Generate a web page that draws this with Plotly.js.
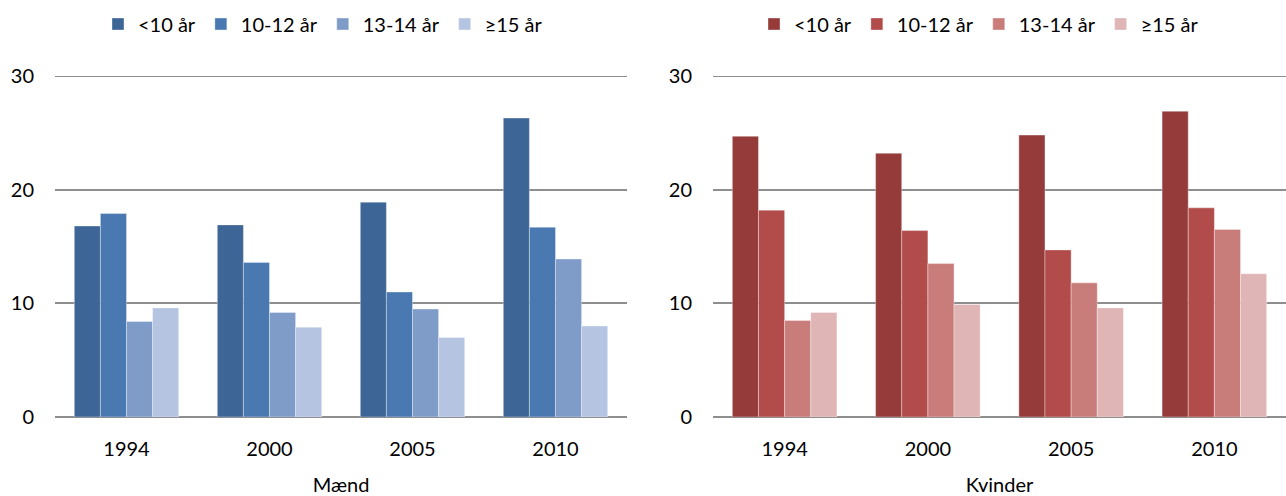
<!DOCTYPE html>
<html>
<head>
<meta charset="utf-8">
<script src="https://cdn.plot.ly/plotly-3.0.1.min.js"></script>
<style>
html,body{margin:0;padding:0;background:#fff;}
#chart{width:1286px;height:496px;}
</style>
</head>
<body>
<div id="chart"></div>
<script>
const years = ['1994', '2000', '2005', '2010'];
const groups = ['<10 år', '10-12 år', '13-14 år', '≥15 år'];

const maendLt10 = [16.8, 16.9, 18.9, 26.3];
const maend10_12 = [17.9, 13.6, 11.0, 16.7];
const maend13_14 = [8.4, 9.2, 9.5, 13.9];
const maendGe15 = [9.6, 7.9, 7.0, 8.0];

const kvinderLt10 = [24.7, 23.2, 24.8, 26.9];
const kvinder10_12 = [18.2, 16.4, 14.7, 18.4];
const kvinder13_14 = [8.5, 13.5, 11.8, 16.5];
const kvinderGe15 = [9.2, 9.9, 9.6, 12.6];

const yTicks = [0, 10, 20, 30];
const yMax = 30;

const blues = ['#3D6595', '#4A79B1', '#7F9CC9', '#B5C4E0'];
const reds = ['#953C3B', '#B24C4A', '#C97D7B', '#DFB5B5'];

const maendSeries = [maendLt10, maend10_12, maend13_14, maendGe15];
const kvinderSeries = [kvinderLt10, kvinder10_12, kvinder13_14, kvinderGe15];

const traces = [];
maendSeries.forEach((vals, i) => {
  traces.push({
    type: 'bar', x: years, y: vals, name: groups[i],
    xaxis: 'x', yaxis: 'y', legend: 'legend',
    marker: {color: blues[i], line: {color: 'rgba(255,255,255,0.35)', width: 1}},
    hoverinfo: 'y'
  });
});
kvinderSeries.forEach((vals, i) => {
  traces.push({
    type: 'bar', x: years, y: vals, name: groups[i],
    xaxis: 'x2', yaxis: 'y2', legend: 'legend2',
    marker: {color: reds[i], line: {color: 'rgba(255,255,255,0.35)', width: 1}},
    hoverinfo: 'y'
  });
});

const font = {family: 'Lato, "Open Sans", sans-serif', size: 20, color: '#000'};
const gridColor = '#8E8E8E';

function yax(anchor) {
  return {
    anchor: anchor, range: [0, yMax], tickvals: yTicks, ticktext: yTicks.map(String),
    showgrid: true, gridcolor: gridColor, gridwidth: 1.8,
    zeroline: true, zerolinecolor: gridColor, zerolinewidth: 2,
    showline: false, ticks: '', ticklabelstandoff: 20,
    tickfont: font, fixedrange: true
  };
}
function xax(domain, anchor, title) {
  return {
    domain: domain, anchor: anchor, type: 'category',
    showgrid: false, zeroline: false, showline: false, ticks: '',
    ticklabelstandoff: 18, tickfont: font,
    title: {text: title, font: font, standoff: 20}
  };
}

const layout = {
  width: 1286, height: 496,
  margin: {l: 0, r: 0, t: 76, b: 79},
  paper_bgcolor: '#fff', plot_bgcolor: '#fff',
  font: font,
  barmode: 'group', bargap: 0.27, bargroupgap: 0,
  xaxis: xax([55/1286, 627/1286], 'y', 'Mænd'),
  yaxis: yax('x'),
  xaxis2: xax([713/1286, 1], 'y2', 'Kvinder'),
  yaxis2: yax('x2'),
  shapes: [
    {type: 'line', xref: 'x domain', yref: 'y', x0: 0, x1: 1, y0: yMax, y1: yMax,
     line: {color: gridColor, width: 1.8}, layer: 'below'},
    {type: 'line', xref: 'x2 domain', yref: 'y2', x0: 0, x1: 1, y0: yMax, y1: yMax,
     line: {color: gridColor, width: 1.8}, layer: 'below'}
  ],
  legend: {
    orientation: 'h', x: 98/1286, xanchor: 'left', y: 1 + (76-24)/341, yanchor: 'middle',
    font: font, bgcolor: 'rgba(0,0,0,0)', traceorder: 'normal'
  },
  legend2: {
    orientation: 'h', x: 754/1286, xanchor: 'left', y: 1 + (76-24)/341, yanchor: 'middle',
    font: font, bgcolor: 'rgba(0,0,0,0)', traceorder: 'normal'
  },
  showlegend: true
};

Plotly.newPlot('chart', traces, layout, {displayModeBar: false, staticPlot: true});
</script>
</body>
</html>
